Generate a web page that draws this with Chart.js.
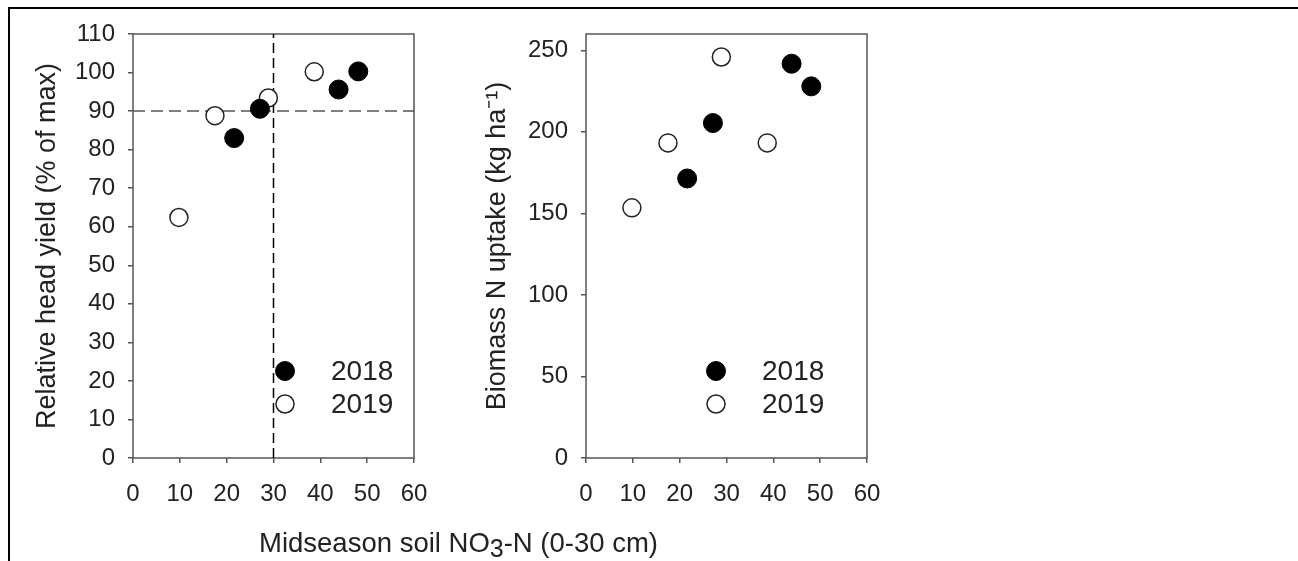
<!DOCTYPE html>
<html>
<head>
<meta charset="utf-8">
<script src="https://cdn.jsdelivr.net/npm/chart.js@4.4.1/dist/chart.umd.min.js"></script>
<style>
body { margin: 0; background: #fff; }
#wrap { position: relative; width: 1298px; height: 561px; overflow: hidden; font-family: "Liberation Sans", Arial, sans-serif; }
#frame { position: absolute; left: 8px; top: 7px; width: 1300px; height: 600px; border-top: 2px solid #000; border-left: 2px solid #000; }
.box { position: absolute; top: 0; }
#xtitle { position: absolute; left: 259px; top: 527px; font-size: 27.5px; line-height: 32px; color: #222; white-space: nowrap; }
#xtitle sub { font-size: 25px; vertical-align: -5px; line-height: 0; }
</style>
</head>
<body>
<div id="wrap">
  <div id="frame"></div>
  <canvas id="yieldChart" class="box" style="left:0px" width="440" height="561"></canvas>
  <canvas id="uptakeChart" class="box" style="left:440px" width="460" height="561"></canvas>
  <div id="xtitle">Midseason soil NO<sub>3</sub>-N (0-30 cm)</div>
</div>
<script>
// midseason soil nitrate (x), shared by both panels
var nitrate2018 = [21.6, 27.1, 43.9, 48.1];
var nitrate2019 = [9.8, 17.5, 28.9, 38.7];

// relative head yield (% of max)
var yield2018 = [83.0, 90.6, 95.6, 100.3];
var yield2019 = [62.4, 88.8, 93.4, 100.2];

// biomass N uptake (kg/ha)
var uptake2018 = [171.4, 205.4, 241.8, 227.9];
var uptake2019 = [153.4, 193.2, 245.9, 193.2];

var years = ["2018", "2019"];
var yieldThreshold = 90;
var nitrateThreshold = 30;

var xTicks = [0, 10, 20, 30, 40, 50, 60];
var yieldTicks = [0, 10, 20, 30, 40, 50, 60, 70, 80, 90, 100, 110];
var uptakeTicks = [0, 50, 100, 150, 200, 250];

function pts(xs, ys) {
	var out = [];
	for (var i in xs) out.push({x: xs[i], y: ys[i]});
	return out;
}

var filledStyle = {pointRadius: 9.5, pointHoverRadius: 9.5, pointBackgroundColor: "#000", pointBorderColor: "#000", pointBorderWidth: 1};
var openStyle = {pointRadius: 9, pointHoverRadius: 9, pointBackgroundColor: "#fff", pointBorderColor: "#222", pointBorderWidth: 1.5};

// box around plot area
var framePlugin = {
	id: "frame",
	beforeDatasetsDraw: function(chart) {
		var a = chart.chartArea, ctx = chart.ctx;
		ctx.save();
		ctx.strokeStyle = "#555";
		ctx.lineWidth = 1.5;
		ctx.strokeRect(a.left, a.top, a.right - a.left, a.bottom - a.top);
		ctx.restore();
	}
};

// legend drawn inside the plot
var insetLegend = {
	id: "insetLegend",
	afterDraw: function(chart, args, opts) {
		var ctx = chart.ctx, a = chart.chartArea;
		ctx.save();
		ctx.font = opts.fontSize + "px 'Liberation Sans', Arial, sans-serif";
		ctx.textBaseline = "middle";
		var row = 0;
		chart.data.datasets.forEach(function(ds) {
			if (!ds.label) return;
			var y = opts.rows[row++];
			ctx.beginPath();
			ctx.arc(a.left + opts.markerX, y, ds.pointRadius, 0, Math.PI * 2);
			ctx.fillStyle = ds.pointBackgroundColor;
			ctx.fill();
			ctx.lineWidth = ds.pointBorderWidth;
			ctx.strokeStyle = ds.pointBorderColor;
			ctx.stroke();
			ctx.fillStyle = "#222";
			ctx.fillText(ds.label, a.left + opts.textX, y + 1);
		});
		ctx.restore();
	}
};

function scales(yTicks, yMax, yTitle, yWidth, titlePad) {
	var tickFont = {family: "'Liberation Sans', Arial, sans-serif", size: 24};
	var titleFont = {family: "'Liberation Sans', Arial, sans-serif", size: 27};
	return {
		x: {
			type: "linear", min: 0, max: 60,
			afterBuildTicks: function(s) { s.ticks = xTicks.map(function(v) { return {value: v}; }); },
			ticks: {color: "#222", font: tickFont, padding: 17, maxRotation: 0},
			grid: {drawOnChartArea: false, tickLength: 5, color: "#555", lineWidth: 1.5},
			border: {display: false},
			afterFit: function(s) { s.height = 60; s.paddingLeft = 0; s.paddingRight = 0; }
		},
		y: {
			type: "linear", min: 0, max: yMax,
			afterBuildTicks: function(s) { s.ticks = yTicks.map(function(v) { return {value: v}; }); },
			ticks: {color: "#222", font: tickFont, padding: 13},
			grid: {drawOnChartArea: false, tickLength: 5, color: "#555", lineWidth: 1.5},
			border: {display: false},
			title: {display: true, text: yTitle, color: "#222", font: titleFont, padding: {top: titlePad, bottom: 0}},
			afterFit: function(s) { s.width = yWidth; s.paddingTop = 0; s.paddingBottom = 0; }
		}
	};
}

var yieldChart = new Chart(document.getElementById("yieldChart"), {
	type: "scatter",
	data: {
		datasets: [
			Object.assign({label: years[0], data: pts(nitrate2018, yield2018), order: 1}, filledStyle),
			Object.assign({label: years[1], data: pts(nitrate2019, yield2019), order: 1}, openStyle),
			{data: [{x: 0, y: yieldThreshold}, {x: 60, y: yieldThreshold}], showLine: true, pointRadius: 0,
			 borderColor: "#555", borderWidth: 1.5, borderDash: [12, 6], order: 2},
			{data: [{x: nitrateThreshold, y: 0}, {x: nitrateThreshold, y: 110}], showLine: true, pointRadius: 0,
			 borderColor: "#000", borderWidth: 1.5, borderDash: [10, 5], order: 2}
		]
	},
	options: {
		responsive: false, animation: false, devicePixelRatio: 1,
		layout: {padding: {top: 34, right: 26, bottom: 43, left: 0}},
		plugins: {legend: {display: false}, tooltip: {enabled: false},
			insetLegend: {markerX: 152, textX: 198, rows: [371, 404], fontSize: 28}},
		scales: scales(yieldTicks, 110, "Relative head yield (% of max)", 133, 31)
	},
	plugins: [framePlugin, insetLegend]
});

var uptakeChart = new Chart(document.getElementById("uptakeChart"), {
	type: "scatter",
	data: {
		datasets: [
			Object.assign({label: years[0], data: pts(nitrate2018, uptake2018)}, filledStyle),
			Object.assign({label: years[1], data: pts(nitrate2019, uptake2019)}, openStyle)
		]
	},
	options: {
		responsive: false, animation: false, devicePixelRatio: 1,
		layout: {padding: {top: 34, right: 33, bottom: 43, left: 0}},
		plugins: {legend: {display: false}, tooltip: {enabled: false},
			insetLegend: {markerX: 130, textX: 176, rows: [371, 404], fontSize: 28}},
		scales: scales(uptakeTicks, 260, "Biomass N uptake (kg ha\u207B\u00B9)", 146, 41)
	},
	plugins: [framePlugin, insetLegend]
});
</script>
</body>
</html>
